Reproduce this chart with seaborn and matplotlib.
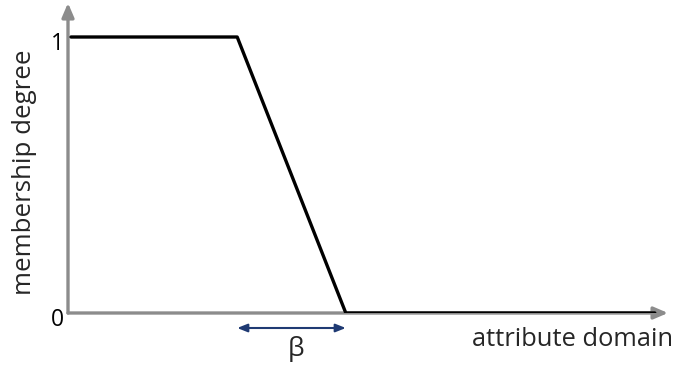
import matplotlib
matplotlib.use("Agg")
import matplotlib.pyplot as plt
import matplotlib.transforms as mtransforms
import seaborn as sns
import pandas as pd

sns.set_theme(style="white")
plt.rcParams['font.family'] = ['Open Sans', 'DejaVu Sans']

# Data: trapezoidal (left-shoulder) membership function
x_points = [0.05, 2.82, 4.63, 9.78]
membership = [1.0, 1.0, 0.0, 0.0]
y_tick_labels = ["0", "1"]
y_tick_values = [0, 1]
beta_start, beta_end = 2.82, 4.63

df = pd.DataFrame({"x": x_points, "membership": membership})

fig = plt.figure(figsize=(6.8, 3.67), dpi=100)
ax = fig.add_axes([68/680, (367-313)/367, 600/680, 310/367])
ax.set_xlim(0, 10)
ax.set_ylim(0, 310/276)

axis_gray = "#8c8c8c"
# axes arrows
ax.annotate("", xy=(1.0, 0), xytext=(0, 0), xycoords="axes fraction",
            arrowprops=dict(arrowstyle="-|>,head_length=0.7,head_width=0.3",
                            color=axis_gray, lw=2.4, shrinkA=0, shrinkB=0),
            annotation_clip=False, zorder=1)
ax.annotate("", xy=(0, 1.0), xytext=(0, 0), xycoords="axes fraction",
            arrowprops=dict(arrowstyle="-|>,head_length=0.7,head_width=0.3",
                            color=axis_gray, lw=2.4, shrinkA=0, shrinkB=0),
            annotation_clip=False, zorder=1)

sns.lineplot(data=df, x="x", y="membership", ax=ax, color="black",
             linewidth=2.4, sort=False, zorder=3)

for ax_spine in ax.spines.values():
    ax_spine.set_visible(False)
ax.set_xticks([])
ax.set_yticks([])
ax.set_xlabel("")
ax.set_ylabel("")

for v, lab in zip(y_tick_values, y_tick_labels):
    ax.annotate(lab, xy=(0, v), xytext=(-11, -7), textcoords="offset pixels",
                ha="center", va="center", fontsize=16.5, color="black",
                annotation_clip=False)

# beta double arrow, drawn 15 px below the x axis
below = mtransforms.offset_copy(ax.transData, fig=fig, x=0, y=-15, units="dots")
ax.annotate("", xy=(beta_end, 0), xytext=(beta_start, 0),
            xycoords=below, textcoords=below,
            arrowprops=dict(arrowstyle="<|-|>,head_length=0.5,head_width=0.2",
                            color="#1f3a73", lw=1.5, shrinkA=0, shrinkB=0),
            annotation_clip=False)

fig.text(296/680, 1 - 349/367, "β", fontsize=19, ha="center", va="center")
fig.text(673/680, 1 - 340/367, "attribute domain", fontsize=18.4, ha="right",
         va="center")
fig.text(25/680, 1 - 172/367, "membership degree", fontsize=18.6, ha="center",
         va="center", rotation=90)

fig.savefig("out.png", dpi=100)
